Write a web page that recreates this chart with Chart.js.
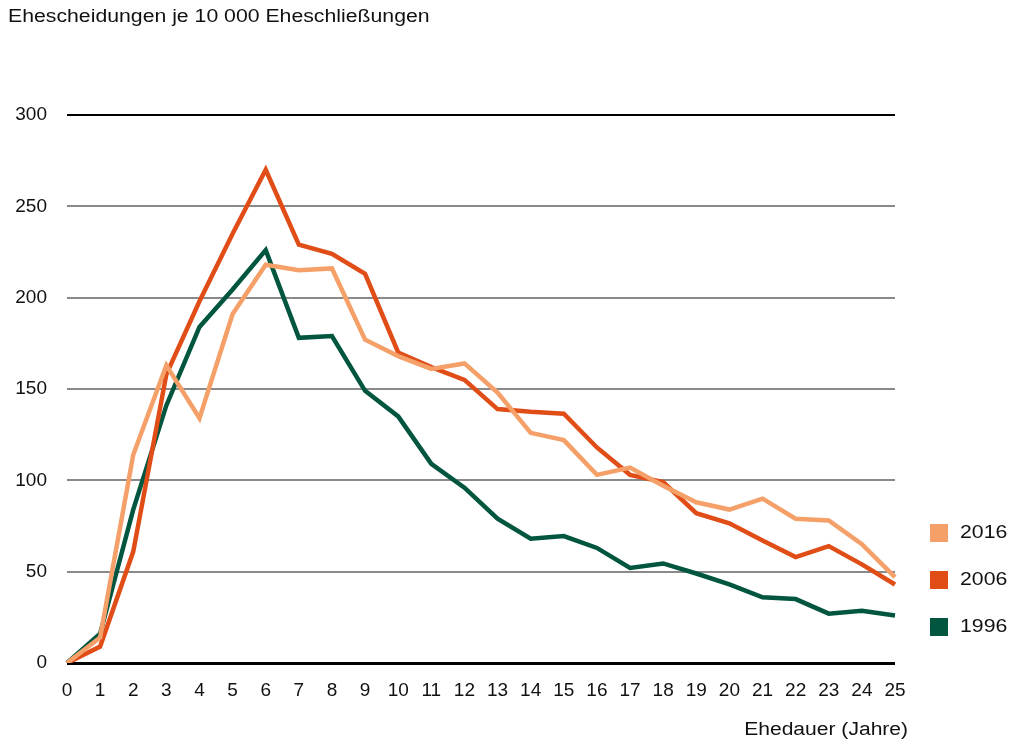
<!DOCTYPE html>
<html>
<head>
<meta charset="utf-8">
<script src="https://cdn.jsdelivr.net/npm/chart.js@4.4.1/dist/chart.umd.min.js"></script>
<style>
  body { margin: 0; background: #fff; font-family: "Liberation Sans", Arial, sans-serif; }
  #wrap { position: relative; width: 1012px; height: 742px; }
  .txt { position: absolute; font-size: 18px; color: #111; white-space: nowrap; }
  #title { left: 8px; top: 6px; transform: scaleX(1.18); transform-origin: left center; }
  #xtitle { right: 104px; top: 719px; transform: scaleX(1.17); transform-origin: right center; }
  #legend { position: absolute; left: 930px; top: 509px; font-size: 18px; color: #111; }
  .item { display: flex; align-items: center; height: 47px; }
  .box { width: 18px; height: 18px; margin-right: 12px; }
  .lbl { display: inline-block; transform: scaleX(1.18); transform-origin: left center; }
</style>
</head>
<body>
<div id="wrap">
  <canvas id="chart" width="1012" height="742"></canvas>
  <div id="title" class="txt">Ehescheidungen je 10 000 Eheschließungen</div>
  <div id="xtitle" class="txt">Ehedauer (Jahre)</div>
  <div id="legend"></div>
</div>
<script>
// Ehedauer in Jahren
const durations = ['0','1','2','3','4','5','6','7','8','9','10','11','12','13','14','15','16','17','18','19','20','21','22','23','24','25'];

// Eheschließungsjahrgänge
const values2016 = [0, 14, 114, 163, 134, 191, 218, 215, 216, 177, 168, 161, 164, 148, 126, 122, 103, 107, 97, 88, 84, 90, 79, 78, 65, 47];
const values2006 = [0, 9, 61, 158, 198, 235, 270, 229, 224, 213, 170, 162, 155, 139, 137.5, 136.5, 118, 103, 99, 82, 76.5, 67, 58, 64, 54, 43];
const values1996 = [0, 16, 84, 141, 184, 204.5, 226, 178, 179, 149, 135, 109, 96, 79, 68, 69.5, 63, 52, 54.5, 49, 43, 36, 35, 27, 28.6, 26];

const series = [
    { label: '2016', data: values2016, color: '#f4a068' },
    { label: '2006', data: values2006, color: '#e04d17' },
    { label: '1996', data: values1996, color: '#02553f' },
];

// Legend (HTML)
const legendEl = document.getElementById('legend');
series.forEach((s) => {
    const item = document.createElement('div');
    item.className = 'item';
    item.innerHTML = `<span class="box" style="background:${s.color}"></span><span class="lbl">${s.label}</span>`;
    legendEl.appendChild(item);
});

const ctx = document.getElementById('chart').getContext('2d');
new Chart(ctx, {
    type: 'line',
    data: {
        labels: durations,
        datasets: series.map((s) => ({
            label: s.label,
            data: s.data,
            borderColor: s.color,
            backgroundColor: s.color,
            borderWidth: 4.5,
            pointRadius: 0,
            tension: 0,
            fill: false,
        })),
    },
    options: {
        responsive: false,
        animation: false,
        layout: { padding: { top: 115, right: 117, bottom: 39, left: 0 } },
        plugins: {
            legend: { display: false },
            tooltip: { enabled: false },
        },
        scales: {
            x: {
                offset: false,
                grid: { display: false, drawTicks: false },
                border: { display: false },
                ticks: {
                    color: '#111',
                    font: { family: 'Liberation Sans', size: 19 },
                    padding: 16,
                    maxRotation: 0,
                    autoSkip: false,
                },
                afterFit: (scale) => { scale.height = 40; },
            },
            y: {
                min: 0,
                max: 300,
                border: { display: false },
                grid: {
                    drawTicks: false,
                    color: (c) => (c.tick && (c.tick.value === 0 || c.tick.value === 300)) ? '#000' : '#8a8a8a',
                    lineWidth: (c) => (c.tick && c.tick.value === 0) ? 3 : 2,
                },
                ticks: {
                    stepSize: 50,
                    color: '#111',
                    font: { family: 'Liberation Sans', size: 19 },
                    padding: 20,
                },
                afterFit: (scale) => { scale.width = 67; },
            },
        },
    },
});
</script>
</body>
</html>
